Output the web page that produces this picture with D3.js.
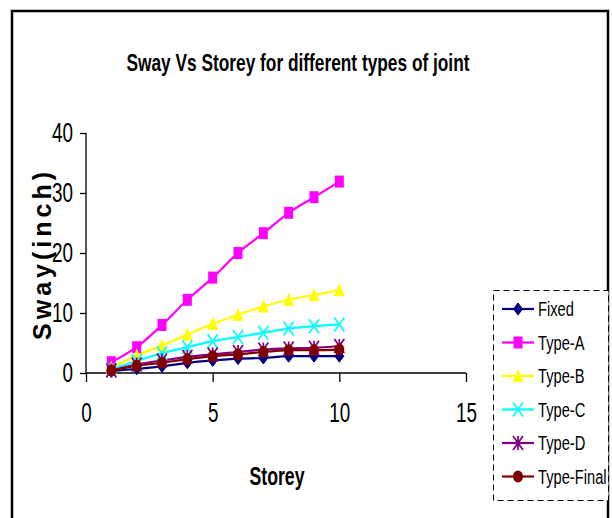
<!DOCTYPE html>
<html><head><meta charset="utf-8">
<script src="https://cdn.jsdelivr.net/npm/d3@7"></script>
<style>
html,body{margin:0;padding:0;background:#fff;}
text{font-family:"Liberation Sans Narrow","Arial Narrow","Liberation Sans",Arial,sans-serif;}
</style></head>
<body><svg id="c" width="612" height="518"></svg>
<script>
const storeys = [1,2,3,4,5,6,7,8,9,10];
const seriesNames = ["Fixed","Type-A","Type-B","Type-C","Type-D","Type-Final"];
const fixed     = [0.3, 0.7, 1.1, 1.7, 2.1, 2.4, 2.5, 2.8, 2.8, 2.8];
const typeA     = [1.8, 4.3, 8.0, 12.2, 15.9, 20.0, 23.3, 26.7, 29.3, 31.9];
const typeB     = [0.9, 2.9, 4.6, 6.4, 8.2, 9.7, 11.1, 12.2, 13.0, 13.8];
const typeC     = [0.6, 2.0, 3.3, 4.3, 5.3, 6.0, 6.7, 7.4, 7.8, 8.1];
const typeD     = [0.4, 1.4, 2.1, 2.7, 3.1, 3.5, 3.9, 4.1, 4.2, 4.5];
const typeFinal = [0.4, 1.2, 1.7, 2.3, 2.8, 3.1, 3.5, 3.8, 3.8, 3.9];
const xTicks = [0,5,10,15];
const yTicks = [0,10,20,30,40];
const colors = ["#000080","#FF00FF","#FFFF00","#00FFFF","#800080","#800000"];
const markers = ["diamond","square","triangle","x","star","circle"];
const allValues = [fixed,typeA,typeB,typeC,typeD,typeFinal];

const NARROW = 0.7;
const svg = d3.select("#c");
// outer frame
svg.append("path").attr("d","M12,518 L12,11 L608,11 L608,518")
  .attr("fill","none").attr("stroke","#000").attr("stroke-width",2.5);

const x = d3.scaleLinear().domain([0,15]).range([86,466]);
const y = d3.scaleLinear().domain([0,40]).range([373,133]);

// title
svg.append("text").attr("x",298).attr("y",71).attr("text-anchor","middle")
  .attr("font-size",24).attr("font-weight","bold")
  .attr("textLength",343).attr("lengthAdjust","spacingAndGlyphs")
  .text("Sway Vs Storey for different types of joint");

// axes
const yAxis = svg.append("g").attr("transform","translate(86,0)")
  .call(d3.axisLeft(y).tickValues(yTicks).tickSize(6).tickPadding(5));
const xAxis = svg.append("g").attr("transform","translate(0,373)")
  .call(d3.axisBottom(x).tickValues(xTicks).tickSize(9).tickPadding(21));
[xAxis,yAxis].forEach(g=>{
  g.select(".domain").attr("stroke","#000").attr("stroke-width",1.3);
  g.selectAll(".tick line").attr("stroke","#000").attr("stroke-width",1.3);
  g.selectAll(".tick text").attr("font-size",27).attr("fill","#000")
   .attr("font-family",'"Liberation Sans",Arial,sans-serif');
});
yAxis.selectAll(".tick text").attr("x",-13/NARROW).attr("transform",`scale(${NARROW},1)`);
xAxis.selectAll(".tick text").attr("x",0).attr("transform",`scale(${NARROW},1)`);
xAxis.select(".domain").attr("d","M86,0H466");
yAxis.select(".domain").attr("d","M0,373V133");

// axis titles
svg.append("text").attr("x",277).attr("y",485).attr("text-anchor","middle")
  .attr("font-size",26).attr("font-weight","bold")
  .attr("textLength",55).attr("lengthAdjust","spacingAndGlyphs").text("Storey");
svg.append("text").attr("transform","translate(51,256) rotate(-90)")
  .attr("text-anchor","middle").attr("font-size",25).attr("font-weight","bold")
  .attr("textLength",168).attr("lengthAdjust","spacing").text("Sway(inch)");

function drawMarker(g, type, color, cx, cy, s){
  s = s||1;
  if(type==="diamond"){
    g.append("path").attr("d",`M${cx},${cy-6*s}L${cx+4.5*s},${cy}L${cx},${cy+6*s}L${cx-4.5*s},${cy}Z`).attr("fill",color).attr("stroke",color);
  } else if(type==="square"){
    g.append("rect").attr("x",cx-4.5*s).attr("y",cy-6*s).attr("width",9*s).attr("height",12*s).attr("fill",color);
  } else if(type==="triangle"){
    g.append("path").attr("d",`M${cx},${cy-7*s}L${cx+5.5*s},${cy+6*s}L${cx-5.5*s},${cy+6*s}Z`).attr("fill",color);
  } else if(type==="x"){
    g.append("path").attr("d",`M${cx-5*s},${cy-7*s}L${cx+5*s},${cy+7*s}M${cx+5*s},${cy-7*s}L${cx-5*s},${cy+7*s}`).attr("stroke",color).attr("stroke-width",1.7).attr("fill","none");
  } else if(type==="star"){
    g.append("path").attr("d",`M${cx-5*s},${cy-7*s}L${cx+5*s},${cy+7*s}M${cx+5*s},${cy-7*s}L${cx-5*s},${cy+7*s}M${cx},${cy-7*s}L${cx},${cy+7*s}`).attr("stroke",color).attr("stroke-width",1.7).attr("fill","none");
  } else if(type==="circle"){
    g.append("ellipse").attr("cx",cx).attr("cy",cy).attr("rx",5*s).attr("ry",6*s).attr("fill",color);
  }
}

const line = d3.line().x((d,i)=>x(storeys[i])).y(d=>y(d)).curve(d3.curveCatmullRom.alpha(0.5));
const plot = svg.append("g");
allValues.forEach((vals,k)=>{
  plot.append("path").attr("d",line(vals)).attr("fill","none")
    .attr("stroke",colors[k]).attr("stroke-width",2.2);
});
allValues.forEach((vals,k)=>{
  const g = plot.append("g");
  vals.forEach((v,i)=>drawMarker(g,markers[k],colors[k],x(storeys[i]),y(v)));
});

// legend
svg.append("rect").attr("x",493.5).attr("y",290.5).attr("width",115).attr("height",210)
  .attr("fill","#fff").attr("stroke","#000").attr("stroke-width",1).attr("stroke-dasharray","6,4");
const lg = svg.append("g");
seriesNames.forEach((n,k)=>{
  const ly = 309 + k*33.5;
  lg.append("line").attr("x1",502).attr("x2",534).attr("y1",ly).attr("y2",ly)
    .attr("stroke",colors[k]).attr("stroke-width",2.2);
  drawMarker(lg,markers[k],colors[k],518,ly);
  lg.append("text").attr("transform",`translate(538,${ly+7}) scale(${NARROW},1)`)
    .attr("font-size",21).text(n);
});
</script></body></html>
